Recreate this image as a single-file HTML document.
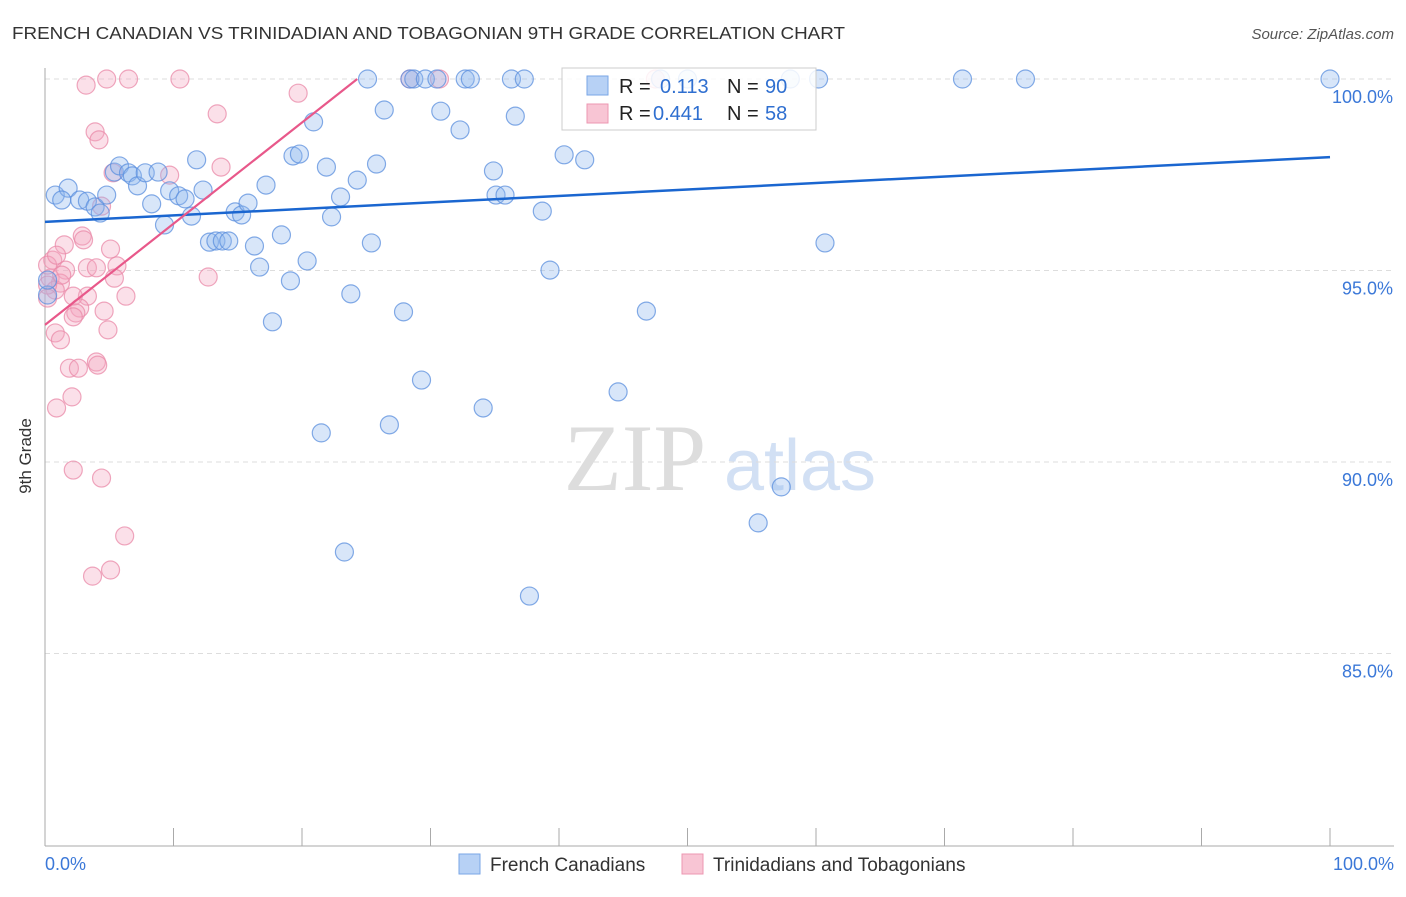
<!DOCTYPE html>
<html><head><meta charset="utf-8"><style>
body{margin:0;background:#fff;font-family:"Liberation Sans",sans-serif}
</style></head><body>
<svg width="1406" height="892" viewBox="0 0 1406 892" xmlns="http://www.w3.org/2000/svg">
<text x="12" y="39" font-size="17.5" fill="#333" textLength="833" lengthAdjust="spacingAndGlyphs">FRENCH CANADIAN VS TRINIDADIAN AND TOBAGONIAN 9TH GRADE CORRELATION CHART</text>
<text x="1394" y="39" font-size="15" fill="#555" font-style="italic" text-anchor="end">Source: ZipAtlas.com</text>
<text x="31" y="456" font-size="17" fill="#333" text-anchor="middle" transform="rotate(-90 31 456)">9th Grade</text>
<g><text x="635" y="490" font-size="95" fill="#ddd" font-family="Liberation Serif,serif" text-anchor="middle">ZIP</text><text x="800" y="490" font-size="72" fill="#d2e0f4" text-anchor="middle">atlas</text></g>
<g id="grid"></g><g id="axes"></g><g id="pts"></g><g id="lines"></g>
<g>
<rect x="562" y="68" width="254" height="62" fill="#fff" fill-opacity="0.85" stroke="#ccc"/>
<rect x="587" y="76" width="21" height="19" fill="#b7d1f5" stroke="#7aa6e6"/>
<rect x="587" y="104" width="21" height="19" fill="#f8c5d4" stroke="#ec97b2"/>
<g font-size="20"><text x="619" y="93" fill="#222">R = </text><text x="660" y="93" fill="#2f6fd0">0.113</text><text x="727" y="93" fill="#222">N = </text><text x="765" y="93" fill="#2f6fd0">90</text>
<text x="619" y="120" fill="#222">R = </text><text x="653" y="120" fill="#2f6fd0">0.441</text><text x="727" y="120" fill="#222">N = </text><text x="765" y="120" fill="#2f6fd0">58</text></g>
</g>
<g font-size="19" fill="#333">
<rect x="459" y="854" width="21" height="20" fill="#b7d1f5" stroke="#7aa6e6"/><text x="490" y="871">French Canadians</text>
<rect x="682" y="854" width="21" height="20" fill="#f8c5d4" stroke="#ec97b2"/><text x="713" y="871">Trinidadians and Tobagonians</text>
</g>
</svg>
<script>
const NS='http://www.w3.org/2000/svg';
const yTicks=[100,95,90,85];
const yTickLabels=['100.0%','95.0%','90.0%','85.0%'];
const xTickLabels=['0.0%','100.0%'];
const blueX=[0.8,1.8,1.3,2.7,3.3,3.9,4.3,4.8,5.4,5.8,6.5,6.8,7.2,7.8,8.3,8.8,9.3,9.7,10.4,10.9,11.4,11.8,12.3,12.8,13.3,13.8,14.3,14.8,15.3,15.8,16.3,16.7,17.2,17.7,18.4,19.1,19.3,19.8,20.4,20.9,21.5,21.9,22.3,23.0,23.3,23.8,24.3,25.1,25.4,25.8,26.4,26.8,27.9,28.4,28.7,29.3,29.6,30.5,30.8,32.3,32.7,33.1,34.1,34.9,35.1,35.8,36.3,36.6,37.3,37.7,38.7,39.3,40.4,42.0,44.6,46.8,47.9,50.0,55.5,57.3,58.0,60.2,60.7,71.4,76.3,100,0.2,0.2];
const blueY=[96.97,97.15,96.84,96.84,96.81,96.66,96.50,96.97,97.57,97.73,97.55,97.47,97.21,97.55,96.74,97.57,96.19,97.08,96.95,96.87,96.42,97.89,97.10,95.74,95.77,95.77,95.77,96.53,96.45,96.76,95.64,95.09,97.23,93.66,95.93,94.73,97.99,98.04,95.25,98.88,90.76,97.70,96.40,96.92,87.65,94.39,97.36,100,95.72,97.78,99.19,90.97,93.92,100,100,92.14,100,100,99.16,98.67,100,100,91.41,97.60,96.97,96.97,100,99.03,100,86.50,96.55,95.01,98.02,97.89,91.83,93.94,100,100,88.41,89.35,100,100,95.72,100,100,100,94.36,94.75];
const pinkX=[3.2,4.8,6.5,10.5,3.9,4.2,13.4,19.7,28.4,13.7,5.3,9.7,4.4,1.5,2.9,3.0,5.1,0.6,1.6,5.6,3.3,4.0,12.7,5.4,0.4,1.2,0.8,3.3,6.3,2.2,4.6,2.7,2.4,2.2,4.9,0.8,1.2,1.9,2.6,4.0,4.1,2.1,0.9,2.2,4.4,6.2,3.7,5.1,0.2,0.2,0.2,0.9,1.3,30.7,47.5];
const pinkY=[99.84,100,100,100,98.62,98.41,99.09,99.63,100,97.70,97.55,97.49,96.68,95.67,95.90,95.80,95.56,95.27,95.01,95.12,95.07,95.07,94.83,94.80,94.80,94.67,94.49,94.33,94.33,94.33,93.94,94.02,93.89,93.79,93.45,93.37,93.19,92.45,92.45,92.61,92.53,91.70,91.41,89.79,89.58,88.07,87.02,87.18,95.14,94.62,94.28,95.40,94.88,100,100];
const blueTrend=[[0,96.27],[100,97.96]];
const pinkTrend=[[0,93.58],[24.3,100]];
const X=v=>45+v*12.85, Y=v=>79+(100-v)*38.3;
function mk(tag,attrs,parent){const e=document.createElementNS(NS,tag);for(const k in attrs)e.setAttribute(k,attrs[k]);document.getElementById(parent).appendChild(e);return e;}
yTicks.forEach((t,i)=>{
 const l=mk('line',{x1:45,x2:1394,y1:Y(t),y2:Y(t),stroke:'#ddd','stroke-dasharray':'5 4'},'grid');
 
 
 const tx=mk('text',{x:1393,y:Y(t)+24,'font-size':18,fill:'#3b78d8','text-anchor':'end'},'grid');
 tx.textContent=yTickLabels[i];
 
 
});
const ax=mk('line',{x1:45,x2:45,y1:68,y2:846,stroke:'#aaa'},'axes');


const xa=mk('line',{x1:45,x2:1394,y1:846,y2:846,stroke:'#aaa'},'axes');


for(let i=0;i<=10;i++){const t=mk('line',{x1:X(i*10),x2:X(i*10),y1:828,y2:846,stroke:'#aaa'},'axes');
 
 }
[[0,'start',45],[100,'end',1394]].forEach((d,i)=>{const t=mk('text',{x:d[2],y:870,'font-size':18,fill:'#3b78d8','text-anchor':d[1]},'axes');t.textContent=xTickLabels[i];
 
 });
function pts(xs,ys,fill,stroke,name){xs.forEach((x,i)=>{const c=mk('circle',{cx:X(x),cy:Y(ys[i]),r:9,fill:fill,'fill-opacity':0.35,stroke:stroke,'stroke-opacity':0.75,'stroke-width':1.2},'pts');
 
 });}
pts(pinkX,pinkY,'#f4a6bf','#e98aa8','trini-point');
pts(blueX,blueY,'#8fb6ee','#5b8fde','french-point');
const bl=mk('line',{x1:X(blueTrend[0][0]),y1:Y(blueTrend[0][1]),x2:X(blueTrend[1][0]),y2:Y(blueTrend[1][1]),stroke:'#1a66d0','stroke-width':2.5},'lines');


const pl=mk('line',{x1:X(pinkTrend[0][0]),y1:Y(pinkTrend[0][1]),x2:X(pinkTrend[1][0]),y2:Y(pinkTrend[1][1]),stroke:'#e8588a','stroke-width':2.2},'lines');


</script>
</body></html>
